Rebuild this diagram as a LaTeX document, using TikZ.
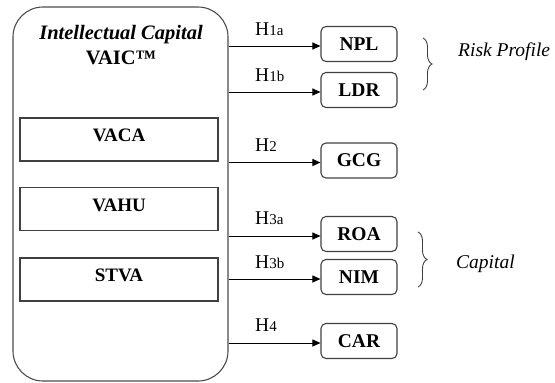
\documentclass[tikz,border=0pt]{standalone}
\usepackage{fontspec}
\setmainfont{Liberation Serif}
\usetikzlibrary{arrows.meta,decorations.pathreplacing}
\begin{document}
\begin{tikzpicture}[x=1pt,y=1pt,
  bigbox/.style={draw=black!70,line width=1.1pt,rounded corners=30pt,minimum width=215pt,minimum height=374pt,inner sep=0pt},
  innerbox/.style={draw=black!75,line width=1.1pt,minimum width=198pt,minimum height=43pt,inner sep=0pt,font=\fontsize{19}{22}\selectfont\bfseries,text height=13pt,text depth=9pt},
  outbox/.style={draw=black!75,line width=1.1pt,rounded corners=5pt,minimum width=76pt,minimum height=35pt,inner sep=0pt,font=\fontsize{19.5}{22}\selectfont\bfseries},
  hyp/.style={anchor=base west,inner sep=0pt,font=\fontsize{19.5}{22}\selectfont},
  sub/.style={},
  link/.style={line width=1pt,-{Triangle[length=8pt,width=7pt]}},
  grp/.style={draw=black!75,line width=0.9pt,decorate,decoration={brace,amplitude=9pt}},
  grplabel/.style={anchor=west,inner sep=0pt,font=\fontsize{19.5}{22}\selectfont\itshape}
]
\useasboundingbox (0,0) rectangle (555,-383);
\node[bigbox] (big) at (120.5,-194) {};
\node[font=\fontsize{20.5}{24}\selectfont\bfseries\itshape] (title) at (121,-35) {Intellectual Capital};
\node[font=\fontsize{20.5}{24}\selectfont\bfseries] (vaic) at (121,-58) {VAIC™};
\node[innerbox] (vaca) at (119,-139.5) {VACA};
\node[innerbox] (vahu) at (119,-209) {VAHU};
\node[innerbox] (stva) at (119,-279.5) {STVA};

\node[outbox] (npl) at (359,-44) {NPL};
\node[outbox] (ldr) at (359,-90) {LDR};
\node[outbox] (gcg) at (359,-160.5) {GCG};
\node[outbox] (roa) at (359,-234) {ROA};
\node[outbox] (nim) at (359,-277) {NIM};
\node[outbox] (car) at (359,-341) {CAR};

\foreach \n in {npl,ldr,gcg,roa,nim,car}
  \draw[link] ([yshift=-2pt]\n.west -| big.east) -- ([yshift=-2pt]\n.west);

\newcommand{\hs}[1]{{\fontsize{15}{17}\selectfont #1}}
\node[hyp] (h1a) at (255,-35) {H\hs{1a}};
\node[hyp] (h1b) at (255,-81) {H\hs{1b}};
\node[hyp] (h2) at (255,-151) {H\hs{2}};
\node[hyp] (h3a) at (255,-224) {H\hs{3a}};
\node[hyp] (h3b) at (255,-268) {H\hs{3b}};
\node[hyp] (h4) at (255,-331) {H\hs{4}};

\coordinate (b1t) at (423,-38);
\coordinate (b1b) at (423,-90);
\coordinate (b2t) at (418,-232);
\coordinate (b2b) at (418,-287);
\draw[grp] (b1t) -- (b1b);
\draw[grp] (b2t) -- (b2b);
\node[grplabel] (risk) at (458,-52) {Risk Profile};
\node[grplabel] (cap) at (456,-264) {Capital};
\end{tikzpicture}
\end{document}
